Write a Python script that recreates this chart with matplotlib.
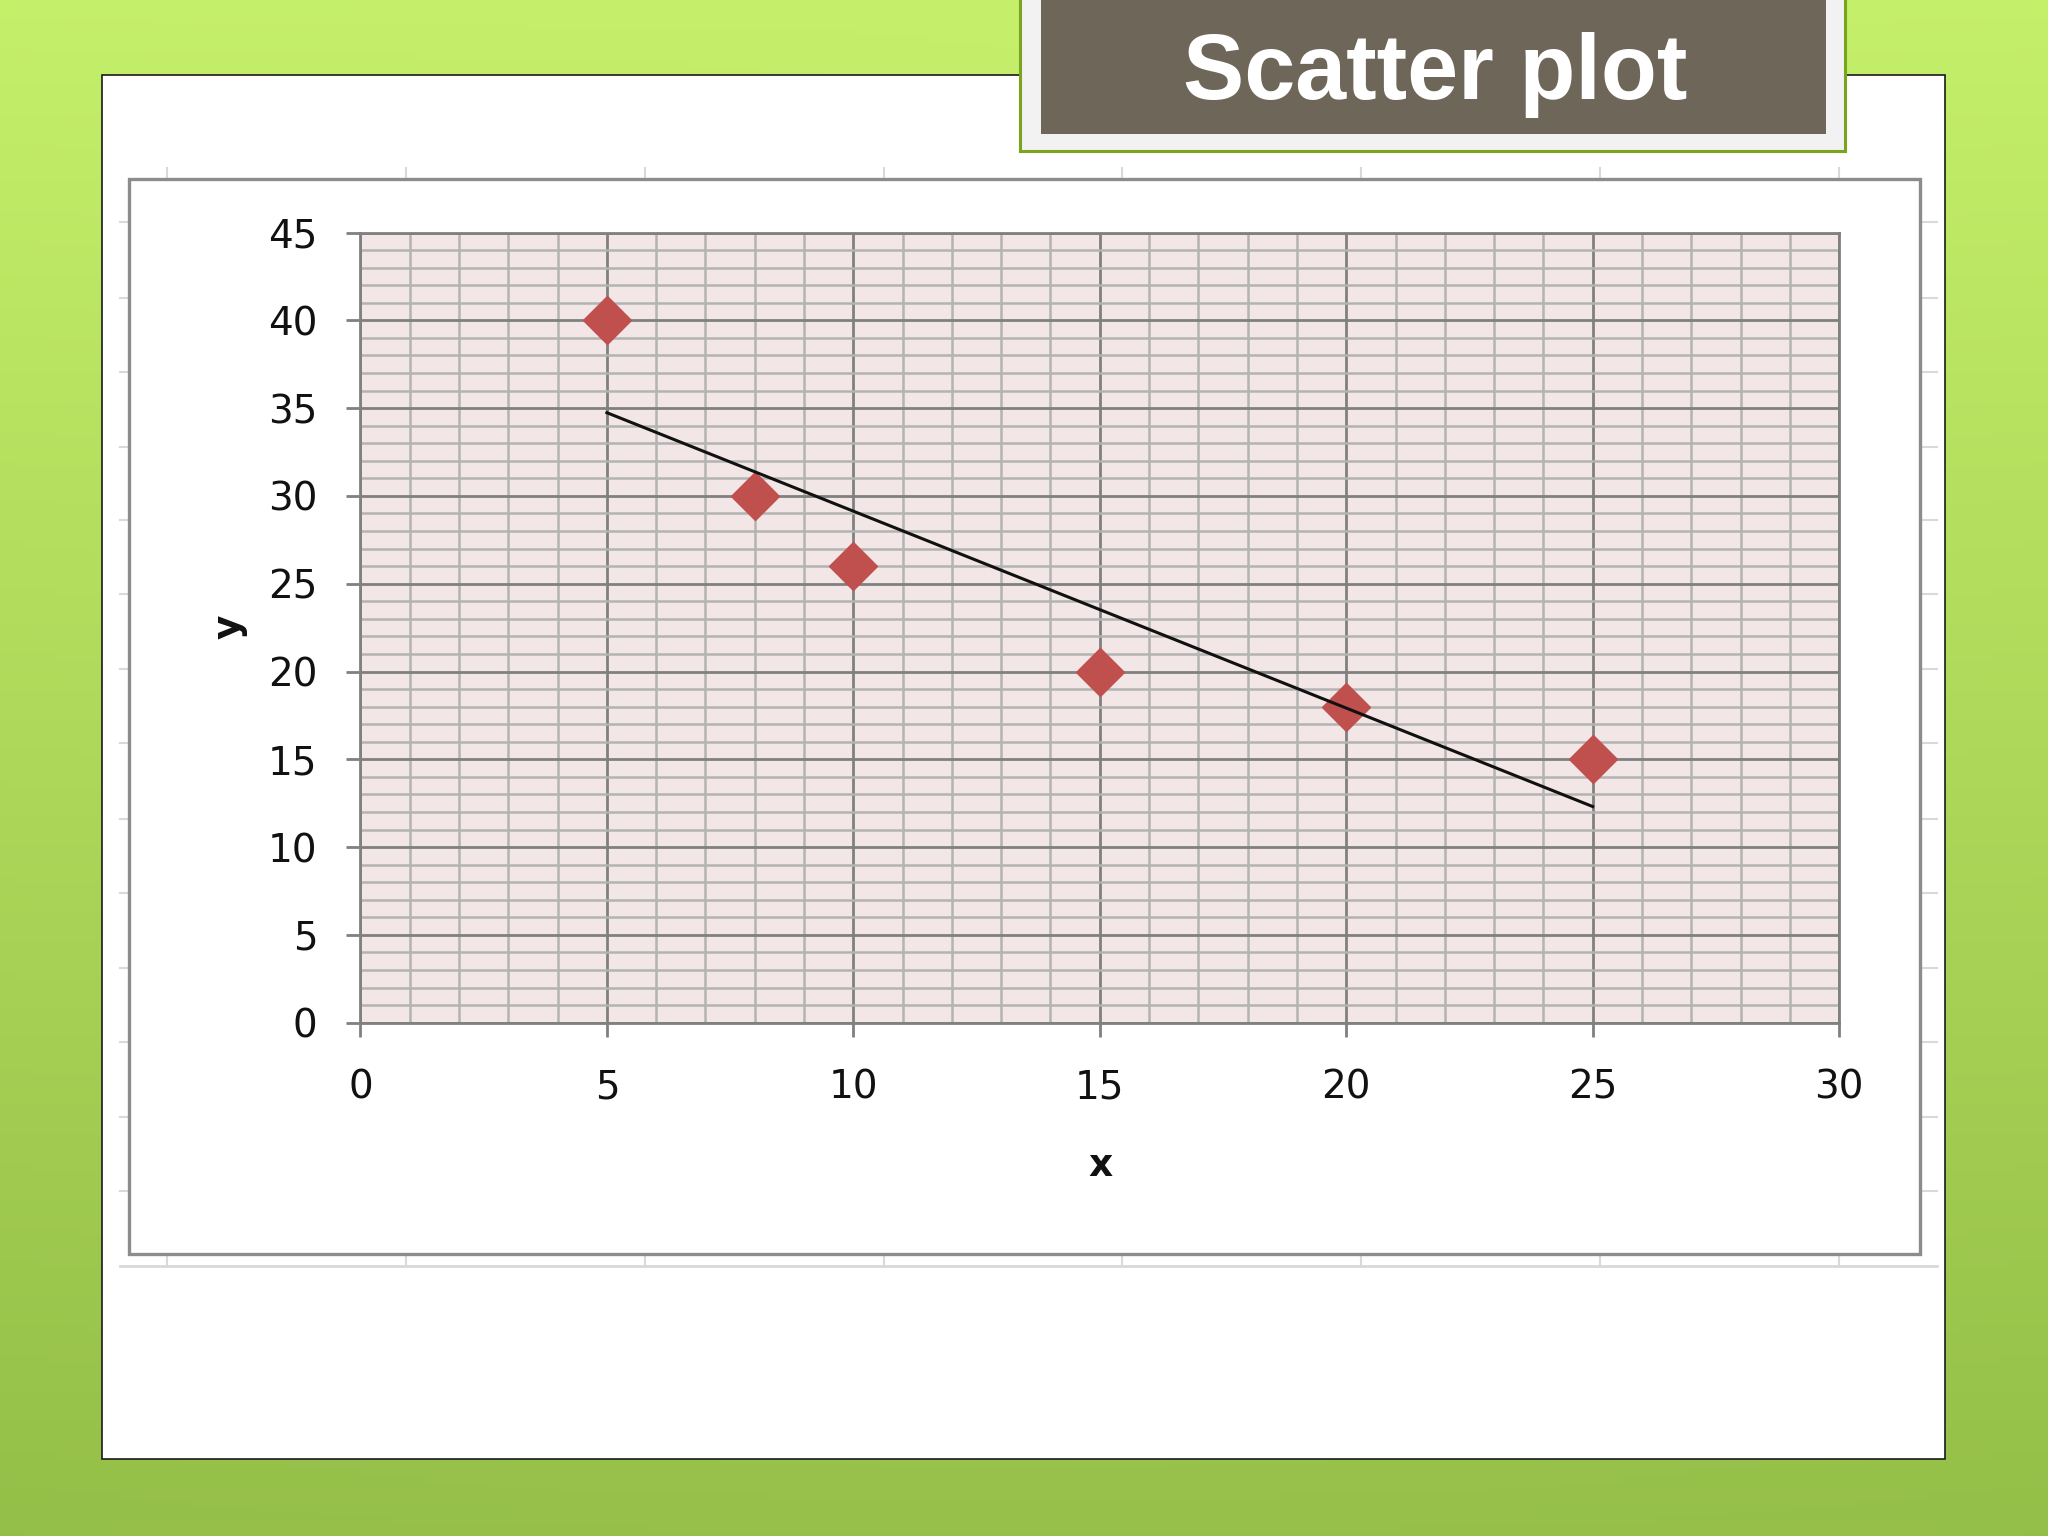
import numpy as np
import matplotlib
matplotlib.use("Agg")
import matplotlib.pyplot as plt
from matplotlib.patches import Rectangle

# data
x_vals = [5, 8, 10, 15, 20, 25]
y_vals = [40, 30, 26, 20, 18, 15]
x_ticks = [0, 5, 10, 15, 20, 25, 30]
y_ticks = [0, 5, 10, 15, 20, 25, 30, 35, 40, 45]
title = "Scatter plot"

W, H = 2048, 1536
fig = plt.figure(figsize=(W / 100, H / 100), dpi=100)

# slide background (pixel coords, y down)
bg = fig.add_axes([0, 0, 1, 1])
bg.set_xlim(0, W)
bg.set_ylim(H, 0)
bg.axis("off")
top = np.array([198, 240, 108]) / 255
bot = np.array([150, 192, 74]) / 255
ty = np.linspace(0, 1, 256)[:, None, None]
tx = np.linspace(0, 1, 256)[None, :, None]
grad = top * (1 - ty) + bot * ty
grad = grad - 0.04 * np.abs(tx - 0.5) * np.array([0.3, 0.1, 0.4])
grad = np.clip(grad, 0, 1)
bg.imshow(grad, extent=[0, W, H, 0], aspect="auto", zorder=0)

# white slide panel
bg.add_patch(Rectangle((102, 75), 1843, 1384, facecolor="white",
                       edgecolor="#1a1a1a", lw=1.2, zorder=1))

# spreadsheet cell lines around chart
for xp in [167, 406, 645, 884, 1122, 1361, 1600, 1839]:
    bg.plot([xp, xp], [168, 179], color="#d9d9d9", lw=1.5, zorder=2)
    bg.plot([xp, xp], [1254, 1266], color="#d9d9d9", lw=1.5, zorder=2)
for yp in [222, 298, 372, 447, 520, 594, 669, 743, 819, 893, 968, 1042, 1117, 1191]:
    bg.plot([120, 129], [yp, yp], color="#d9d9d9", lw=1.5, zorder=2)
    bg.plot([1920, 1937], [yp, yp], color="#d9d9d9", lw=1.5, zorder=2)
bg.plot([120, 1937], [1266, 1266], color="#d9d9d9", lw=2, zorder=2)

# chart area
bg.add_patch(Rectangle((129, 179), 1791, 1075, facecolor="white",
                       edgecolor="#8c8c8c", lw=2.4, zorder=3))

# title box
bg.add_patch(Rectangle((1020, -10), 825, 161, facecolor="#f2f2f2",
                       edgecolor="#78a51c", lw=2.2, zorder=4))
bg.add_patch(Rectangle((1041, -10), 785, 144, facecolor="#6e6659",
                       edgecolor="none", zorder=5))
bg.text(1435, 99, title, ha="center", va="baseline", color="white",
        fontsize=66, fontweight="bold", family="Liberation Sans", zorder=6)

# plot
ax = fig.add_axes([0.176, 0.3342, 0.722, 0.5144], zorder=2)
ax.set_facecolor("#f2e6e6")
ax.set_xlim(0, 30)
ax.set_ylim(0, 45)
ax.set_xticks(x_ticks)
ax.set_yticks(y_ticks)
ax.set_xticks(np.arange(0, 31, 1), minor=True)
ax.set_yticks(np.arange(0, 46, 1), minor=True)
ax.grid(which="minor", color="#b3b3b3", lw=1.8, zorder=0)
ax.grid(which="major", color="#808080", lw=2.0, zorder=0.5)
ax.set_axisbelow(True)
for s in ax.spines.values():
    s.set_color("#808080")
    s.set_linewidth(2.0)
ax.tick_params(which="major", direction="out", length=10, width=2.0,
               color="#808080", labelsize=28, labelcolor="#111111")
ax.tick_params(axis="y", pad=21)
ax.tick_params(axis="x", pad=23)
ax.tick_params(which="minor", length=0)

ax.plot(x_vals, y_vals, linestyle="none", marker="D", markersize=24,
        color="#c0504d", markeredgecolor="#c0504d", zorder=3, clip_on=False)

slope, icpt = np.polyfit(x_vals, y_vals, 1)
xf = np.array([min(x_vals), max(x_vals)])
ax.plot(xf, slope * xf + icpt, color="#111111", lw=2.2, zorder=4)

fig.text(0.5376, 0.2406, "x", ha="center", va="center", fontsize=27,
         fontweight="bold", color="#111111")
fig.text(0.1122, 0.5918, "y", ha="center", va="center", fontsize=27,
         fontweight="bold", color="#111111", rotation=90)

fig.savefig("out.png", dpi=100)
